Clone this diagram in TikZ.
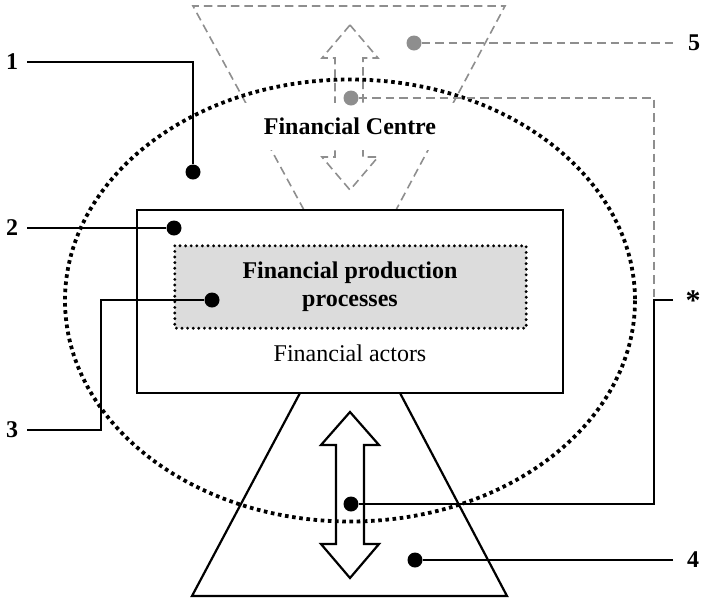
\documentclass[tikz,border=0pt]{standalone}
\usepackage{fontspec}
\setmainfont{Liberation Serif}
\definecolor{dgray}{HTML}{8E8E8E}
\definecolor{boxgray}{HTML}{DCDCDC}
\begin{document}
\begin{tikzpicture}[x=1pt,y=-1pt,
  lbl/.style={font=\fontsize{24}{28}\selectfont\bfseries, inner sep=0pt},
  bdot/.style={circle, fill=black, inner sep=0pt, minimum size=15pt},
  gdot/.style={circle, fill=dgray, inner sep=0pt, minimum size=15pt},
  lead/.style={line width=1.5pt},
  gdash/.style={dgray, line width=1.6pt, dash pattern=on 8.5pt off 5pt},
  dotline/.style={line width=3.8pt, dash pattern=on 3.6pt off 3.6pt},
  rdots/.style={line width=3.2pt, line cap=round, dash pattern=on 0pt off 5.6pt}]
\useasboundingbox (0,0) rectangle (702,598);
% top dashed trapezoid
\draw[gdash] (304,210) -- (193,6) -- (505,6) -- (396,210);
% dashed double arrow
\draw[gdash] (350,25) -- (378,58) -- (363,58) -- (363,157) -- (378,157) -- (350,190)
  -- (322,157) -- (335,157) -- (335,58) -- (322,58) -- cycle;
% white label box
\node[fill=white, minimum width=215pt, minimum height=47pt, inner sep=0pt,
  font=\fontsize{24}{28}\selectfont\bfseries] (fc) at (350,126.5) {Financial Centre};
% bottom trapezoid
\draw[line width=2.2pt, line join=miter] (300,393) -- (192,596) -- (507,596) -- (400,393);
% solid double arrow
\draw[line width=2.2pt] (350,412) -- (379,445) -- (364,445) -- (364,544) -- (379,544) -- (350,578)
  -- (321,544) -- (336,544) -- (336,445) -- (321,445) -- cycle;
% main rectangle
\node[draw, line width=2.6pt, fill=white, minimum width=426pt, minimum height=183pt,
  inner sep=0pt] (actors) at (350,301.5) {};
% production box
\node[fill=boxgray, minimum width=351pt, minimum height=82pt, inner sep=0pt] (prod) at (350.5,287) {};
\draw[rdots] (prod.north west) rectangle (prod.south east);
\node[align=center, font=\fontsize{24}{28}\selectfont\bfseries] (prodtxt) at (350,287)
  {Financial production\\processes};
\node[font=\fontsize{24}{28}\selectfont, inner sep=0pt] (actxt) at (350,353) {Financial actors};
% ellipse
\draw[dotline] (350,300.5) ellipse [x radius=285, y radius=221];
% gray dots and dashed leaders
\node[gdot] (g5) at (414,43) {};
\node[gdot] (gs) at (351,98) {};
\node[lbl] (l5) at (694,43) {5};
\coordinate (c5) at (673,43);
\draw[gdash] (g5) -- (c5);
\coordinate (sc1) at (654,98);
\coordinate (sc2) at (654,300);
\draw[gdash] (gs) -- (sc1) -- (sc2);
% star leader
\node[lbl, scale=1.25] (ls) at (693,301) {*};
\coordinate (sc3) at (673,300);
\coordinate (sc4) at (654,504);
\node[bdot] (ds) at (351,504) {};
\draw[lead] (sc3) -- (sc2) -- (sc4) -- (ds);
% label 4
\node[lbl] (l4) at (693,560) {4};
\node[bdot] (d4) at (415,560) {};
\coordinate (c4) at (673,560);
\draw[lead] (c4) -- (d4);
% label 1
\node[lbl] (l1) at (12,62) {1};
\node[bdot] (d1) at (193,172) {};
\coordinate (c1a) at (27,62);
\coordinate (c1b) at (193,62);
\draw[lead] (c1a) -- (c1b) -- (d1);
% label 2
\node[lbl] (l2) at (12,228) {2};
\node[bdot] (d2) at (174,228) {};
\coordinate (c2a) at (27,228);
\draw[lead] (c2a) -- (d2);
% label 3
\node[lbl] (l3) at (12,430) {3};
\node[bdot] (d3) at (212,300) {};
\coordinate (c3a) at (27,430);
\coordinate (c3b) at (101,430);
\coordinate (c3c) at (101,300);
\draw[lead] (c3a) -- (c3b) -- (c3c) -- (d3);
\end{tikzpicture}
\end{document}
